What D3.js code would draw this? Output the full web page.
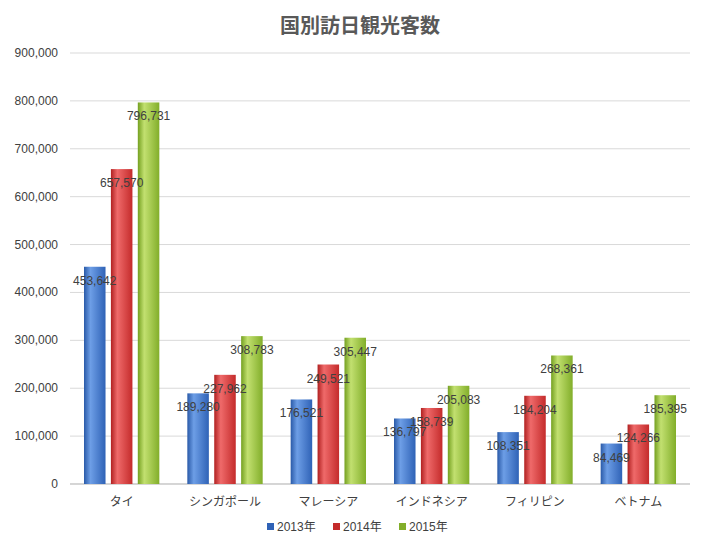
<!DOCTYPE html>
<html><head><meta charset="utf-8">
<script src="https://cdn.jsdelivr.net/npm/d3@7"></script>
<style>body{margin:0;background:#fff}text{font-family:"Liberation Sans","Noto Sans CJK JP",sans-serif}</style>
</head><body><div class="container"></div>
<script>
let categories = ["タイ", "シンガポール", "マレーシア", "インドネシア", "フィリピン", "ベトナム"];
let seriesNames = ["2013年", "2014年", "2015年"];
let v2013 = [453642, 189280, 176521, 136797, 108351, 84469];
let v2014 = [657570, 227962, 249521, 158739, 184204, 124266];
let v2015 = [796731, 308783, 305447, 205083, 268361, 185395];
let yTicks = [0, 100000, 200000, 300000, 400000, 500000, 600000, 700000, 800000, 900000];

let series = [v2013, v2014, v2015];
let colors = [["#2a5aa8", "#6d9ee6", "#2f62b6"], ["#b02020", "#ef6a6a", "#c42b2b"], ["#74a020", "#c2e070", "#82ae2a"]];

let svg = d3.select(".container").append("svg").attr("width", 720).attr("height", 545);
let margin = {top: 53, right: 30, bottom: 61, left: 70};
let width = 720 - margin.left - margin.right;
let height = 545 - margin.top - margin.bottom;

let defs = svg.append("defs");
colors.forEach((c, i) => {
    let g = defs.append("linearGradient").attr("id", "g" + i);
    g.append("stop").attr("offset", "0%").attr("stop-color", c[0]);
    g.append("stop").attr("offset", "30%").attr("stop-color", c[1]);
    g.append("stop").attr("offset", "100%").attr("stop-color", c[2]);
});

svg.append("text").attr("x", 360).attr("y", 33).attr("text-anchor", "middle")
    .attr("font-size", 20).attr("font-weight", "bold").attr("fill", "#595959").text("国別訪日観光客数");

let g = svg.append("g").attr("transform", `translate(${margin.left},${margin.top})`);
let y = d3.scaleLinear().domain([0, 900000]).range([height, 0]);
let x0 = d3.scaleBand().domain(categories).range([0, width]);
let x1 = d3.scaleBand().domain(d3.range(3)).range([14, x0.bandwidth() - 14]).paddingInner(0.2);

g.selectAll(".grid").data(yTicks).join("line")
    .attr("x1", 0).attr("x2", width).attr("y1", d => y(d)).attr("y2", d => y(d))
    .attr("stroke", "#d9d9d9");
g.selectAll(".yl").data(yTicks).join("text")
    .attr("x", -12).attr("y", d => y(d) + 4).attr("text-anchor", "end")
    .attr("font-size", 12).attr("fill", "#404040").text(d => d3.format(",")(d));
g.append("line").attr("x1", 0).attr("x2", width).attr("y1", height).attr("y2", height).attr("stroke", "#bfbfbf");
g.selectAll(".xl").data(categories).join("text")
    .attr("x", d => x0(d) + x0.bandwidth() / 2).attr("y", height + 22).attr("text-anchor", "middle")
    .attr("font-size", 12).attr("fill", "#404040").text(d => d);

let bars = g.append("g"), labels = g.append("g");
series.forEach((s, i) => {
    bars.append("g").selectAll("rect").data(s).join("rect")
        .attr("x", (d, j) => x0(categories[j]) + x1(i)).attr("width", x1.bandwidth())
        .attr("y", d => y(d)).attr("height", d => height - y(d))
        .attr("fill", `url(#g${i})`);
    labels.append("g").selectAll("text").data(s).join("text")
        .attr("x", (d, j) => x0(categories[j]) + x1(i) + x1.bandwidth() / 2)
        .attr("y", d => y(d) + 18).attr("text-anchor", "middle")
        .attr("font-size", 12).attr("fill", "#404040").text(d => d3.format(",")(d));
});

let leg = svg.append("g").attr("transform", "translate(267,531)");
seriesNames.forEach((n, i) => {
    let lg = leg.append("g").attr("transform", `translate(${i * 66},0)`);
    lg.append("rect").attr("x", 0).attr("y", -8).attr("width", 7).attr("height", 7).attr("fill", colors[i][2]);
    lg.append("text").attr("x", 10).attr("y", 0).attr("font-size", 12).attr("fill", "#404040").text(n);
});
</script></body></html>
